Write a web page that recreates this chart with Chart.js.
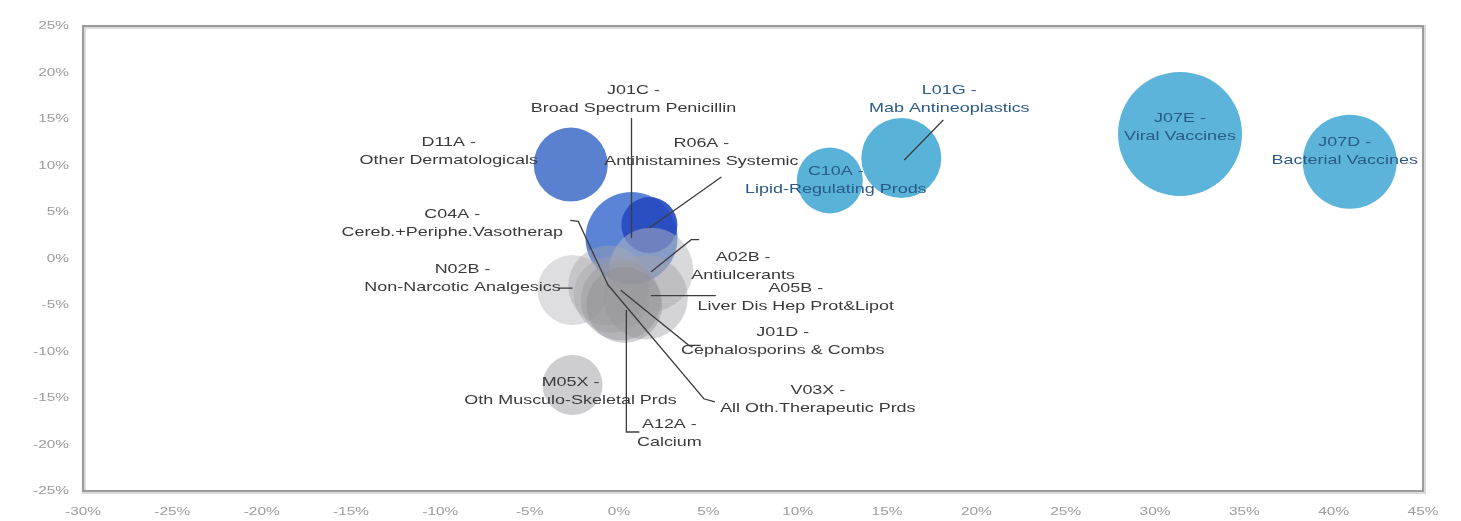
<!DOCTYPE html>
<html>
<head>
<meta charset="utf-8">
<script src="https://cdn.jsdelivr.net/npm/chart.js@4.4.1/dist/chart.umd.min.js"></script>
<style>
  html, body { margin: 0; padding: 0; background: #ffffff; }
  #wrap { width: 1461px; height: 521px; position: relative; }
</style>
</head>
<body>
<div id="wrap"><canvas id="bubbleChart" width="1461" height="521"></canvas></div>
<script>
// ATC3 classes: x = growth (%), y = second growth measure (%), size = bubble size
const codes = ['D11A', 'J01C', 'R06A', 'C10A', 'L01G', 'J07E', 'J07D',
               'N02B', 'C04A', 'A02B', 'A05B', 'J01D', 'V03X', 'A12A', 'M05X'];
const names = ['Other Dermatologicals', 'Broad Spectrum Penicillin', 'Antihistamines Systemic',
               'Lipid-Regulating Prods', 'Mab Antineoplastics', 'Viral Vaccines', 'Bacterial Vaccines',
               'Non-Narcotic Analgesics', 'Cereb.+Periphe.Vasotherap', 'Antiulcerants',
               'Liver Dis Hep Prot&Lipot', 'Cephalosporins & Combs', 'All Oth.Therapeutic Prds',
               'Calcium', 'Oth Musculo-Skeletal Prds'];
const growthX = [-2.7, 0.7, 1.7, 11.8, 15.8, 31.4, 40.9,
                 -2.6, -0.6, 1.8, 1.5, 0.1, -0.4, 0.3, -2.6];
const growthY = [10.1, 2.2, 3.6, 8.4, 10.8, 13.4, 10.4,
                 -3.4, -2.9, -1.2, -4.2, -4.5, -3.9, -5.0, -13.6];
const bubbleSize = [37, 46, 28, 33, 40, 62, 47,
                    35, 40, 42, 42, 40, 38, 38, 30];

const xTicks = { min: -30, max: 45, step: 5 };
const yTicks = { min: -25, max: 25, step: 5 };

// colours per bubble
const fills = [
  'rgba(80,122,206,0.95)', 'rgba(78,122,210,0.92)', 'rgba(38,72,192,0.9)',
  'rgba(80,174,214,0.95)', 'rgba(80,174,214,0.95)', 'rgba(84,176,216,0.95)', 'rgba(84,176,216,0.95)',
  'rgba(195,195,200,0.55)', 'rgba(160,160,166,0.42)', 'rgba(180,180,185,0.5)',
  'rgba(160,160,165,0.45)', 'rgba(150,150,155,0.45)', 'rgba(160,160,165,0.38)',
  'rgba(140,140,145,0.4)', 'rgba(198,198,201,0.85)'
];

// label placement: text offset from bubble centre, leader line points (offsets)
const labelLayout = {
  D11A: { dx: -122, dy: -13 },
  J01C: { dx: 2, dy: -139, line: [[0, -120], [0, 0]] },
  R06A: { dx: 52, dy: -73, line: [[72, -48], [0, 3]] },
  C10A: { dx: 6, dy: 0, blue: true },
  L01G: { dx: 48, dy: -59, line: [[42, -38], [3, 2]], blue: true },
  J07E: { dx: 0, dy: -6, blue: true },
  J07D: { dx: -5, dy: -10, blue: true },
  N02B: { dx: -110, dy: -12, line: [[-14, -2], [0, -2]] },
  C04A: { dx: -156, dy: -62, line: [[-38, -65], [-30, -64], [0, 0]] },
  A02B: { dx: 92, dy: -3, line: [[48, -30], [40, -30], [0, 2]] },
  A05B: { dx: 150, dy: 0, line: [[70, -2], [5, -2]] },
  J01D: { dx: 162, dy: 41, line: [[80, 45], [68, 45], [0, -10]] },
  V03X: { dx: 206, dy: 105, line: [[103, 107], [92, 104], [-4, -10]] },
  A12A: { dx: 45, dy: 128, line: [[15, 127], [2, 127], [2, 5]] },
  M05X: { dx: -2, dy: 6 }
};

const points = codes.map((c, i) => ({ x: growthX[i], y: growthY[i], r: bubbleSize[i] }));

// the source picture is stretched sideways, so text is widened to match
const TEXT_STRETCH = 1.38;
function stretchedText(ctx, text, x, y, sx) {
  ctx.save();
  ctx.translate(x, y);
  ctx.scale(sx, 1);
  ctx.fillText(text, 0, 0);
  ctx.restore();
}

const frameAndLabels = {
  id: 'frameAndLabels',
  afterDatasetsDraw(chart) {
    const ctx = chart.ctx;
    const a = chart.chartArea;
    const xs = chart.scales.x, ys = chart.scales.y;
    ctx.save();
    // plot frame
    ctx.strokeStyle = 'rgba(150,150,150,0.35)';
    ctx.lineWidth = 4;
    ctx.strokeRect(a.left + 1, a.top + 1, a.right - a.left, a.bottom - a.top);
    ctx.strokeStyle = '#8c8c8c';
    ctx.lineWidth = 1.6;
    ctx.strokeRect(a.left, a.top, a.right - a.left, a.bottom - a.top);

    // tick labels, placed with the library scales
    ctx.fillStyle = '#9c9c9c';
    ctx.font = '11px "Liberation Sans", Arial, sans-serif';
    ctx.textBaseline = 'middle';
    ctx.textAlign = 'center';
    xs.ticks.forEach(t => {
      stretchedText(ctx, t.value + '%', xs.getPixelForValue(t.value), a.bottom + 21, 1.4);
    });
    ctx.textAlign = 'right';
    ys.ticks.forEach(t => {
      stretchedText(ctx, t.value + '%', a.left - 14, ys.getPixelForValue(t.value), 1.4);
    });

    // leader lines
    ctx.strokeStyle = '#3c3c3c';
    ctx.lineWidth = 1.3;
    codes.forEach((c, i) => {
      const lay = labelLayout[c];
      if (!lay.line) return;
      const cx = xs.getPixelForValue(growthX[i]);
      const cy = ys.getPixelForValue(growthY[i]);
      ctx.beginPath();
      lay.line.forEach((p, k) => {
        if (k === 0) ctx.moveTo(cx + p[0], cy + p[1]);
        else ctx.lineTo(cx + p[0], cy + p[1]);
      });
      ctx.stroke();
    });

    // labels
    ctx.font = '13px "Liberation Sans", Arial, sans-serif';
    ctx.textAlign = 'center';
    ctx.textBaseline = 'middle';
    codes.forEach((c, i) => {
      const lay = labelLayout[c];
      const cx = xs.getPixelForValue(growthX[i]) + lay.dx;
      const cy = ys.getPixelForValue(growthY[i]) + lay.dy;
      ctx.fillStyle = lay.blue ? '#2a5a86' : '#3a3a3a';
      stretchedText(ctx, c + ' -', cx, cy - 9, TEXT_STRETCH);
      stretchedText(ctx, names[i], cx, cy + 9, TEXT_STRETCH);
    });
    ctx.restore();
  }
};

new Chart(document.getElementById('bubbleChart').getContext('2d'), {
  type: 'bubble',
  data: {
    datasets: [{
      data: points,
      backgroundColor: fills,
      borderWidth: 0,
      hoverRadius: 0
    }]
  },
  options: {
    responsive: false,
    animation: false,
    layout: { autoPadding: false, padding: { top: 26, right: 38, left: 0, bottom: 0 } },
    plugins: {
      legend: { display: false },
      tooltip: { enabled: false }
    },
    scales: {
      x: {
        type: 'linear',
        min: xTicks.min,
        max: xTicks.max,
        grid: { display: false, drawTicks: false },
        border: { display: false },
        ticks: { stepSize: xTicks.step, display: false, autoSkip: false },
        afterFit: s => { s.height = 30; }
      },
      y: {
        type: 'linear',
        min: yTicks.min,
        max: yTicks.max,
        grid: { display: false, drawTicks: false },
        border: { display: false },
        ticks: { stepSize: yTicks.step, display: false, autoSkip: false },
        afterFit: s => { s.width = 83; }
      }
    }
  },
  plugins: [frameAndLabels]
});
</script>
</body>
</html>
